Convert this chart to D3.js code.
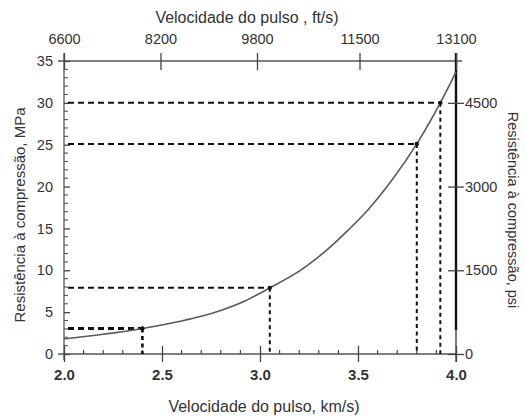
<!DOCTYPE html>
<html>
<head>
<meta charset="utf-8">
<script src="https://cdn.jsdelivr.net/npm/d3@7"></script>
<style>
  html, body { margin: 0; padding: 0; background: #fff; }
  svg { display: block; font-family: "Liberation Sans", Arial, sans-serif; }
</style>
</head>
<body>
<svg id="chart" width="525" height="416"></svg>
<script>
// Pulse velocity (km/s) vs compressive strength (MPa)
const velocityKm = [2.0, 2.2, 2.4, 2.6, 2.7, 2.8, 2.92, 3.05, 3.2, 3.34, 3.45, 3.55, 3.68, 3.8, 3.92, 4.0];
const strengthMPa = [1.8, 2.35, 3.05, 3.95, 4.5, 5.2, 6.3, 7.9, 9.9, 12.4, 14.8, 17.2, 21.0, 25.1, 30.0, 33.7];

// Read-off guides
const guideKm = [2.4, 3.05, 3.8, 3.92];
const guideMPa = [3.05, 7.9, 25.1, 30];

// Axis ticks
const kmTicks = [2.0, 2.5, 3.0, 3.5, 4.0];
const mpaTicks = [0, 5, 10, 15, 20, 25, 30, 35];
const ftTicks = [6600, 8200, 9800, 11500, 13100];
const psiTicks = [0, 1500, 3000, 4500];

const svg = d3.select("#chart");
const FONT = "Liberation Sans, Arial, sans-serif";

const x = d3.scaleLinear().domain([2, 4]).range([64, 456]);
const y = d3.scaleLinear().domain([0, 35]).range([354, 61]);
const xFt = d3.scaleLinear().domain([6600, 13100]).range([64, 456]);
const yPsi = d3.scaleLinear().domain([0, 4500]).range([y(0), y(30)]);

// frame lines
const frame = svg.append("g").attr("stroke", "#555").attr("stroke-width", 1.3);
frame.append("line").attr("x1", 58).attr("x2", 462).attr("y1", y(35)).attr("y2", y(35));
frame.append("line").attr("x1", 58).attr("x2", 456).attr("y1", y(0)).attr("y2", y(0));
frame.append("line").attr("x1", x(2)).attr("x2", x(2)).attr("y1", 53).attr("y2", 360);
svg.append("line").attr("x1", x(4)).attr("x2", x(4)).attr("y1", 53).attr("y2", 330)
  .attr("stroke", "#111").attr("stroke-width", 2.4);
svg.append("line").attr("x1", x(4)).attr("x2", x(4)).attr("y1", 330).attr("y2", 362)
  .attr("stroke", "#333").attr("stroke-width", 1.3);

// bottom axis (km/s)
const axisKm = svg.append("g").attr("transform", `translate(0,${y(0)})`)
  .call(d3.axisBottom(x).tickValues(kmTicks).tickFormat(d3.format(".1f")).tickSizeInner(8).tickSizeOuter(0).tickPadding(7));
axisKm.select(".domain").remove();
axisKm.selectAll(".tick line").attr("y1", -8).attr("stroke", "#444").attr("stroke-width", 1.3);
axisKm.selectAll(".tick text").attr("font-size", 15).attr("font-weight", "bold").attr("fill", "#333")
  .attr("font-family", FONT);
// minor ticks every 0.1 km/s
const minorKm = d3.range(2.1, 4.0, 0.1).filter(v => Math.abs(v * 2 - Math.round(v * 2)) > 1e-6);
svg.append("g").selectAll("line").data(minorKm).join("line")
  .attr("x1", d => x(d)).attr("x2", d => x(d)).attr("y1", y(0) - 4).attr("y2", y(0))
  .attr("stroke", "#444").attr("stroke-width", 1.2);

// top axis (ft/s)
const axisFt = svg.append("g").attr("transform", `translate(0,${y(35)})`)
  .call(d3.axisTop(xFt).tickValues(ftTicks).tickFormat(d3.format("d")).tickSizeInner(9).tickSizeOuter(0).tickPadding(8));
axisFt.select(".domain").remove();
axisFt.selectAll(".tick line").attr("y2", 9).attr("y1", -8).attr("stroke", "#444").attr("stroke-width", 1.3);
axisFt.selectAll(".tick text").attr("font-size", 14.5).attr("fill", "#333").attr("font-family", FONT);

// left axis (MPa)
const axisMPa = svg.append("g").attr("transform", `translate(${x(2)},0)`)
  .call(d3.axisLeft(y).tickValues(mpaTicks).tickSizeInner(6).tickSizeOuter(0).tickPadding(5));
axisMPa.select(".domain").remove();
axisMPa.selectAll(".tick line").attr("x2", 6).attr("stroke", "#444").attr("stroke-width", 1.3);
axisMPa.selectAll(".tick text").attr("font-size", 14.5).attr("fill", "#333").attr("font-family", FONT);
const minorMPa = d3.range(1, 35).filter(v => v % 5 !== 0);
svg.append("g").selectAll("line").data(minorMPa).join("line")
  .attr("x1", x(2)).attr("x2", x(2) + 4).attr("y1", d => y(d)).attr("y2", d => y(d))
  .attr("stroke", "#555").attr("stroke-width", 1.1);

// right axis (psi)
const axisPsi = svg.append("g").attr("transform", `translate(${x(4)},0)`)
  .call(d3.axisRight(yPsi).tickValues(psiTicks).tickFormat(d3.format("d")).tickSizeInner(8).tickSizeOuter(0).tickPadding(1));
axisPsi.select(".domain").remove();
axisPsi.selectAll(".tick line").attr("x1", -8).attr("stroke", "#444").attr("stroke-width", 1.3);
axisPsi.selectAll(".tick text").attr("font-size", 14.5).attr("fill", "#333").attr("font-family", FONT);

// guide lines
const guides = guideKm.map((k, i) => ({ k, m: guideMPa[i] }));
const gg = svg.append("g").attr("stroke", "#111").attr("fill", "none");
gg.selectAll("line.h").data(guides).join("line").attr("class", "h")
  .attr("x1", x(2) + 4).attr("x2", d => x(d.k))
  .attr("y1", d => y(d.m)).attr("y2", d => y(d.m))
  .attr("stroke-width", (d, i) => i === 0 ? 3 : 2)
  .attr("stroke-dasharray", "6,4");
gg.selectAll("line.v").data(guides).join("line").attr("class", "v")
  .attr("x1", d => x(d.k)).attr("x2", d => x(d.k))
  .attr("y1", d => y(d.m)).attr("y2", y(0))
  .attr("stroke-width", (d, i) => i === 0 ? 2.6 : 2)
  .attr("stroke-dasharray", "4,3.5");

// curve
const line = d3.line().x(d => x(d[0])).y(d => y(d[1])).curve(d3.curveCatmullRom);
svg.append("path").datum(velocityKm.map((v, i) => [v, strengthMPa[i]]))
  .attr("d", line).attr("fill", "none").attr("stroke", "#5a5a5a").attr("stroke-width", 1.6);

// guide points
svg.append("g").selectAll("circle").data(guides).join("circle")
  .attr("cx", d => x(d.k)).attr("cy", d => y(d.m)).attr("r", 2.2).attr("fill", "#111");

// titles
svg.append("text").attr("x", 247).attr("y", 23).attr("text-anchor", "middle")
  .attr("font-size", 16).attr("fill", "#333").text("Velocidade do pulso , ft/s)");
svg.append("text").attr("x", 264).attr("y", 412).attr("text-anchor", "middle")
  .attr("font-size", 16).attr("fill", "#333").text("Velocidade do pulso, km/s)");
svg.append("text").attr("transform", "translate(25,215) rotate(-90)").attr("text-anchor", "middle")
  .attr("font-size", 15).attr("fill", "#333").text("Resistência à compressão, MPa");
svg.append("text").attr("transform", "translate(508,210) rotate(90)").attr("text-anchor", "middle")
  .attr("font-size", 14.5).attr("fill", "#333").text("Resistência à compressão, psi");
</script>
</body>
</html>
